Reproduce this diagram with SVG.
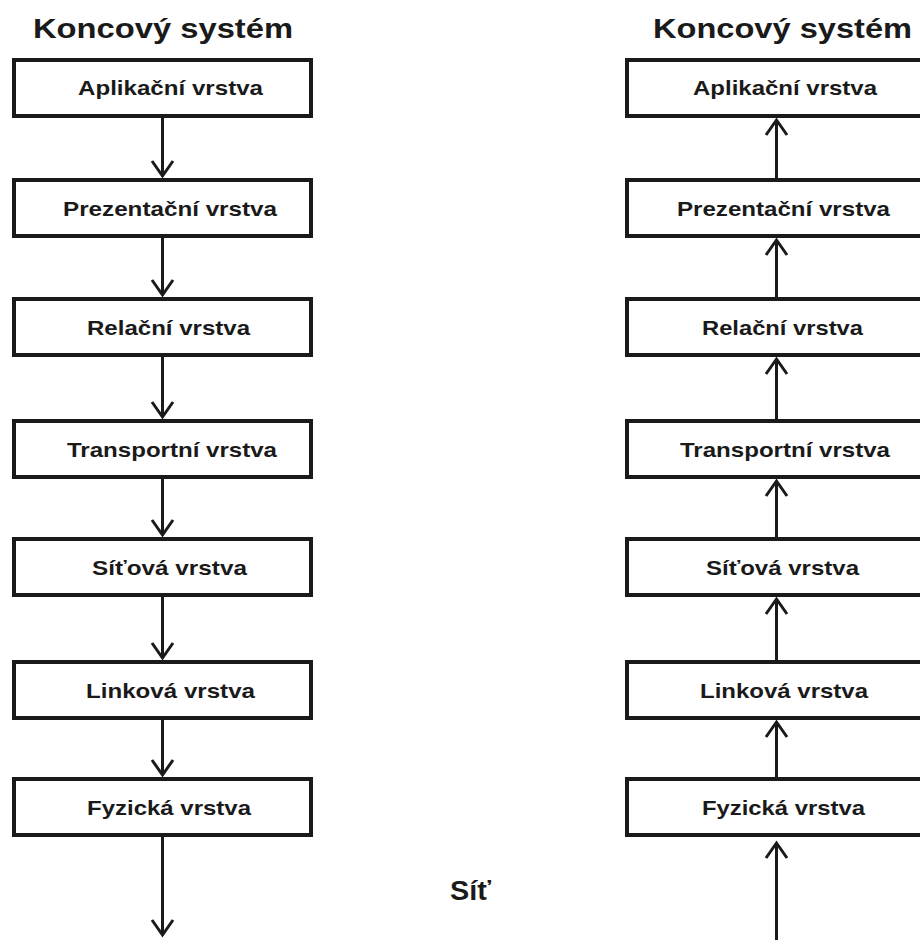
<svg xmlns="http://www.w3.org/2000/svg" width="920" height="940" viewBox="0 0 920 940">
  <style>
    .box { fill: #ffffff; stroke: #1a1a1a; stroke-width: 4; }
    .lbl { font-family: "Liberation Sans", Arial, sans-serif; font-weight: bold; font-size: 21px; fill: #1a1a1a; text-anchor: middle; }
    .title { font-family: "Liberation Sans", Arial, sans-serif; font-weight: bold; font-size: 27px; fill: #1a1a1a; }
    .wire { stroke: #1a1a1a; stroke-width: 3; fill: none; }
    .down { marker-end: url(#vee); }
    .up { marker-end: url(#vee); }
  </style>
  <defs>
    <marker id="vee" markerUnits="userSpaceOnUse" viewBox="-18 -13 22 26" markerWidth="22" markerHeight="26" refX="0" refY="0" orient="auto">
      <path d="M-15,-10.5 L0,0 L-15,10.5" fill="none" stroke="#1a1a1a" stroke-width="3"/>
    </marker>
  </defs>

  <rect width="920" height="940" fill="#ffffff"/>

  <!-- column headings -->
  <text class="title" x="33" y="38" textLength="260" lengthAdjust="spacingAndGlyphs">Koncový systém</text>
  <text class="title" x="653" y="38" textLength="259" lengthAdjust="spacingAndGlyphs">Koncový systém</text>
  <text class="title" x="450" y="900" textLength="41" lengthAdjust="spacingAndGlyphs">Síť</text>

  <!-- sending end system -->
  <g id="l-app"><rect class="box" x="14" y="60" width="297" height="56"/><text class="lbl" x="170.5" y="95" textLength="185" lengthAdjust="spacingAndGlyphs">Aplikační vrstva</text></g>
  <g id="l-pres"><rect class="box" x="14" y="180" width="297" height="56"/><text class="lbl" x="170" y="215.5" textLength="214" lengthAdjust="spacingAndGlyphs">Prezentační vrstva</text></g>
  <g id="l-sess"><rect class="box" x="14" y="299" width="297" height="56"/><text class="lbl" x="168.5" y="334.5" textLength="163" lengthAdjust="spacingAndGlyphs">Relační vrstva</text></g>
  <g id="l-trans"><rect class="box" x="14" y="421" width="297" height="56"/><text class="lbl" x="172" y="456.5" textLength="210" lengthAdjust="spacingAndGlyphs">Transportní vrstva</text></g>
  <g id="l-net"><rect class="box" x="14" y="539" width="297" height="56"/><text class="lbl" x="169.5" y="574.5" textLength="155" lengthAdjust="spacingAndGlyphs">Síťová vrstva</text></g>
  <g id="l-link"><rect class="box" x="14" y="662" width="297" height="56"/><text class="lbl" x="170.5" y="697.5" textLength="169" lengthAdjust="spacingAndGlyphs">Linková vrstva</text></g>
  <g id="l-phys"><rect class="box" x="14" y="779" width="297" height="56"/><text class="lbl" x="169" y="814.5" textLength="164" lengthAdjust="spacingAndGlyphs">Fyzická vrstva</text></g>

  <!-- receiving end system -->
  <g id="r-app"><rect class="box" x="627" y="60" width="297" height="56"/><text class="lbl" x="785" y="95" textLength="184" lengthAdjust="spacingAndGlyphs">Aplikační vrstva</text></g>
  <g id="r-pres"><rect class="box" x="627" y="180" width="297" height="56"/><text class="lbl" x="783.5" y="215.5" textLength="213" lengthAdjust="spacingAndGlyphs">Prezentační vrstva</text></g>
  <g id="r-sess"><rect class="box" x="627" y="299" width="297" height="56"/><text class="lbl" x="782.5" y="334.5" textLength="161" lengthAdjust="spacingAndGlyphs">Relační vrstva</text></g>
  <g id="r-trans"><rect class="box" x="627" y="421" width="297" height="56"/><text class="lbl" x="785" y="456.5" textLength="210" lengthAdjust="spacingAndGlyphs">Transportní vrstva</text></g>
  <g id="r-net"><rect class="box" x="627" y="539" width="297" height="56"/><text class="lbl" x="782.5" y="574.5" textLength="153" lengthAdjust="spacingAndGlyphs">Síťová vrstva</text></g>
  <g id="r-link"><rect class="box" x="627" y="662" width="297" height="56"/><text class="lbl" x="784" y="697.5" textLength="168" lengthAdjust="spacingAndGlyphs">Linková vrstva</text></g>
  <g id="r-phys"><rect class="box" x="627" y="779" width="297" height="56"/><text class="lbl" x="783.5" y="814.5" textLength="163" lengthAdjust="spacingAndGlyphs">Fyzická vrstva</text></g>

  <!-- data flow: down the sender stack, up the receiver stack -->
  <g id="connectors">
    <line class="wire down" x1="162.5" y1="118" x2="162.5" y2="176"/>
    <line class="wire down" x1="162.5" y1="238" x2="162.5" y2="295"/>
    <line class="wire down" x1="162.5" y1="357" x2="162.5" y2="417"/>
    <line class="wire down" x1="162.5" y1="479" x2="162.5" y2="535"/>
    <line class="wire down" x1="162.5" y1="597" x2="162.5" y2="658"/>
    <line class="wire down" x1="162.5" y1="720" x2="162.5" y2="775"/>
    <line class="wire down" x1="162.5" y1="837" x2="162.5" y2="935"/>

    <line class="wire up" x1="776.5" y1="178" x2="776.5" y2="120"/>
    <line class="wire up" x1="776.5" y1="297" x2="776.5" y2="240"/>
    <line class="wire up" x1="776.5" y1="419" x2="776.5" y2="359"/>
    <line class="wire up" x1="776.5" y1="537" x2="776.5" y2="481"/>
    <line class="wire up" x1="776.5" y1="660" x2="776.5" y2="599"/>
    <line class="wire up" x1="776.5" y1="777" x2="776.5" y2="722"/>
    <line class="wire up" x1="776.5" y1="945" x2="776.5" y2="843"/>
  </g>
</svg>
